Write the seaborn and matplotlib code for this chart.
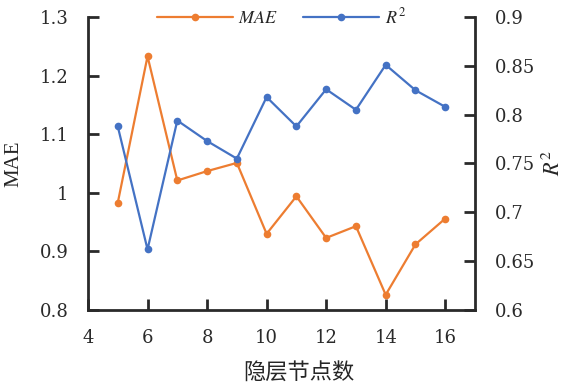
import numpy as np
import pandas as pd
import matplotlib
matplotlib.use("Agg")
import matplotlib.pyplot as plt
import seaborn as sns
from matplotlib.lines import Line2D

nodes = [5, 6, 7, 8, 9, 10, 11, 12, 13, 14, 15, 16]
mae = [0.983, 1.233, 1.021, 1.037, 1.051, 0.930, 0.994, 0.923, 0.943, 0.826, 0.912, 0.956]
r2 = [0.788, 0.662, 0.794, 0.773, 0.755, 0.818, 0.788, 0.826, 0.805, 0.851, 0.825, 0.808]
x_ticks = [4, 6, 8, 10, 12, 14, 16]
left_ticks = [0.8, 0.9, 1.0, 1.1, 1.2, 1.3]
left_labels = ["0.8", "0.9", "1", "1.1", "1.2", "1.3"]
right_ticks = [0.6, 0.65, 0.7, 0.75, 0.8, 0.85, 0.9]
right_labels = ["0.6", "0.65", "0.7", "0.75", "0.8", "0.85", "0.9"]

sns.set_theme(style="white")
plt.rcParams['font.family'] = ['Liberation Serif', 'Noto Sans CJK SC']
plt.rcParams['mathtext.fontset'] = 'stix'

ORANGE = "#ED7D31"
BLUE = "#4472C4"
DARK = "#2a2a2a"
TICKFONT = dict(family=['DejaVu Serif'], size=13)

df = pd.DataFrame({"nodes": nodes, "mae": mae, "r2": r2})

W, H = 565, 386
fig = plt.figure(figsize=(W/100, H/100), dpi=100)
ax = fig.add_axes([88/W, 1-310/H, (475-88)/W, (310-17)/H])
ax2 = ax.twinx()

sns.lineplot(data=df, x="nodes", y="mae", ax=ax, color=ORANGE, marker="o",
             markersize=5.5, markeredgewidth=0, linewidth=1.6)
sns.lineplot(data=df, x="nodes", y="r2", ax=ax2, color=BLUE, marker="o",
             markersize=5.5, markeredgewidth=0, linewidth=1.6)

ax.set_xlim(4, 17)
ax.set_ylim(0.8, 1.3)
ax2.set_ylim(0.6, 0.9)
ax.set_xticks(x_ticks)
ax.set_xticklabels([str(t) for t in x_ticks], fontdict=TICKFONT)
ax.set_yticks(left_ticks)
ax.set_yticklabels(left_labels, fontdict=TICKFONT)
ax2.set_yticks(right_ticks)
ax2.set_yticklabels(right_labels, fontdict=TICKFONT)

for a in (ax, ax2):
    a.spines['top'].set_visible(False)
    for s in a.spines.values():
        s.set_linewidth(2)
        s.set_color(DARK)
ax.spines['right'].set_visible(False)
ax2.spines['left'].set_visible(False)
ax2.spines['bottom'].set_visible(False)

ax.tick_params(axis='y', direction='in', length=8, width=2, colors=DARK, pad=14)
ax.tick_params(axis='x', direction='in', length=8, width=2, colors=DARK, pad=14)
ax2.tick_params(axis='y', direction='in', length=8, width=2, colors=DARK, pad=14)
ax.yaxis.set_ticks_position('left')
ax.xaxis.set_ticks_position('bottom')

ax.set_xlabel("隐层节点数", fontsize=16, family=['Noto Sans CJK SC'])
ax.xaxis.set_label_coords((299-88)/387, -(361-310)/293)
ax.set_ylabel("MAE", fontsize=15)
ax.yaxis.set_label_coords(-(88-23)/387, 0.5)
ax2.set_ylabel(r"$R^2$", fontsize=16)
ax2.yaxis.set_label_coords(1 + (543-475)/387, 0.5)

handles = [Line2D([0], [0], color=ORANGE, marker='o', markersize=5.5, markeredgewidth=0, linewidth=1.6),
           Line2D([0], [0], color=BLUE, marker='o', markersize=5.5, markeredgewidth=0, linewidth=1.6)]
ax.legend(handles, [r"$\it{MAE}$", r"$R^2$"], loc='center', bbox_to_anchor=(0.5, 1.0),
          ncol=2, frameon=False, fontsize=13, handlelength=4.2, columnspacing=1.4,
          handletextpad=0.3, borderpad=0)

fig.savefig("out.png", dpi=100, facecolor="white")
